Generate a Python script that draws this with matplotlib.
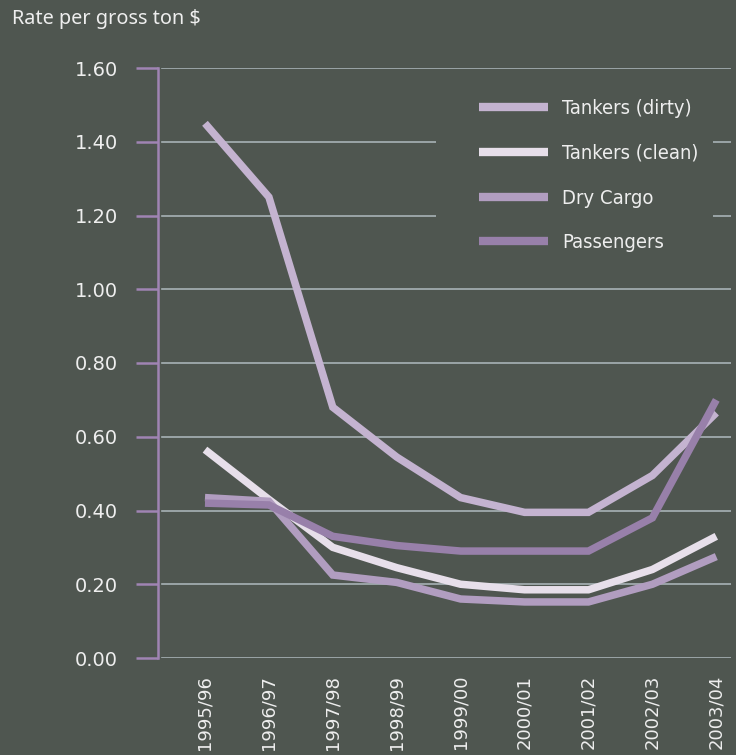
import matplotlib
matplotlib.use("Agg")
import matplotlib.pyplot as plt
from matplotlib.patches import Rectangle
from matplotlib import font_manager

seasons = ["1995/96", "1996/97", "1997/98", "1998/99", "1999/00",
           "2000/01", "2001/02", "2002/03", "2003/04"]
tankers_dirty = [1.45, 1.25, 0.68, 0.545, 0.435, 0.395, 0.395, 0.495, 0.665]
tankers_clean = [0.565, 0.43, 0.30, 0.245, 0.20, 0.185, 0.185, 0.24, 0.33]
dry_cargo = [0.435, 0.425, 0.225, 0.205, 0.16, 0.152, 0.152, 0.20, 0.275]
passengers = [0.42, 0.415, 0.33, 0.305, 0.29, 0.29, 0.29, 0.38, 0.70]
y_ticks = [0.0, 0.2, 0.4, 0.6, 0.8, 1.0, 1.2, 1.4, 1.6]

BG = "#4f5650"
GRID = "#a7b2b5"
AXIS = "#a084b3"
TEXT = "#eeeeee"
W, H = 736, 755

fig = plt.figure(figsize=(W / 100, H / 100), dpi=100, facecolor=BG)
ax = fig.add_axes([158 / W, 97 / H, 573 / W, 590 / H], facecolor=BG)

x = list(range(len(seasons)))
ax.set_xlim(-0.735, 8.23)
ax.set_ylim(0, 1.6)

for y in y_ticks:
    ax.axhline(y, xmin=0.007, xmax=1, color=GRID, lw=1.2, zorder=1)

# plain patch behind the legend so the grid stops around it
fig.add_artist(Rectangle((436 / W, 1 - 278 / H), 277 / W, 190 / H,
                         transform=fig.transFigure, facecolor=BG,
                         edgecolor="none", zorder=2))

series = [
    ("Tankers (dirty)", tankers_dirty, "#c4b3d0"),
    ("Tankers (clean)", tankers_clean, "#e7dfea"),
    ("Dry Cargo", dry_cargo, "#b19dc0"),
    ("Passengers", passengers, "#9880aa"),
]
handles = []
for name, vals, col in series:
    h, = ax.plot(x, vals, color=col, lw=5.4, solid_joinstyle="miter",
                 solid_capstyle="butt", label=name, zorder=3)
    handles.append(h)

for s in ["top", "right", "bottom"]:
    ax.spines[s].set_visible(False)
ax.spines["left"].set_color(AXIS)
ax.spines["left"].set_linewidth(1.8)

ax.set_yticks(y_ticks)
ax.set_yticklabels([f"{v:.2f}" for v in y_ticks], color=TEXT, fontsize=14)
ax.tick_params(axis="y", direction="out", length=16, width=1.8, color=AXIS, pad=13)

ax.set_xticks(x)
ax.set_xticklabels(seasons, rotation=90, color=TEXT, fontsize=13)
ax.tick_params(axis="x", length=0, pad=12)

legend_font = font_manager.FontProperties(family=["DejaVu Sans"], stretch="condensed", size=14.5)
leg = fig.legend(handles=handles, loc="upper left", bbox_to_anchor=(479 / W, 1 - 99 / H),
                 frameon=False, handlelength=3.43, handletextpad=0.7,
                 labelspacing=1.28, borderpad=0, borderaxespad=0, prop=legend_font)
for t in leg.get_texts():
    t.set_color(TEXT)
for lh in leg.get_lines():
    lh.set_linewidth(6)
leg.set_zorder(4)

fig.text(12 / W, 1 - 19 / H, "Rate per gross ton $", color=TEXT,
         fontsize=14.3, va="center", ha="left", family="Noto Sans")

fig.savefig("out.png", dpi=100, facecolor=BG)
